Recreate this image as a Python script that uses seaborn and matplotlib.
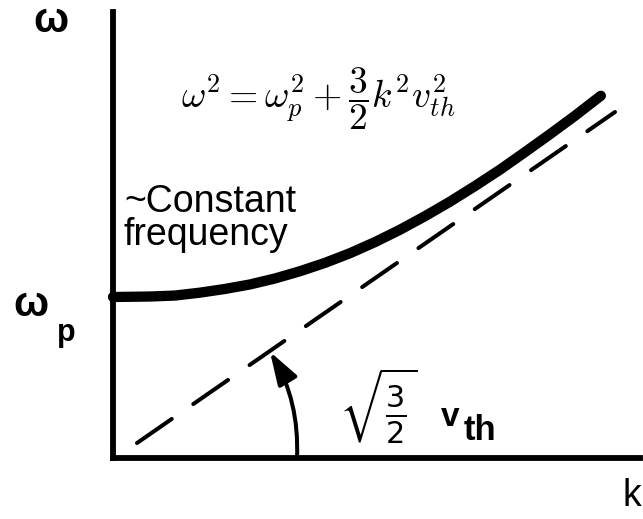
import matplotlib
matplotlib.use("Agg")
import matplotlib.pyplot as plt
import pandas as pd
import seaborn as sns
from matplotlib.patches import FancyArrowPatch

# Langmuir-wave dispersion, both axes in units of omega_p
k_curve = [0.0, 0.230, 0.385, 0.540, 0.696, 0.851, 1.006, 1.161, 1.317, 1.472,
           1.627, 1.783, 1.938, 2.093, 2.248, 2.404, 2.559, 2.714, 2.870, 3.030]
omega_curve = [1.000, 1.003, 1.009, 1.027, 1.050, 1.078, 1.115, 1.160, 1.212,
               1.272, 1.341, 1.418, 1.502, 1.592, 1.689, 1.791, 1.900, 2.011,
               2.126, 2.250]

# large-k asymptote, omega = sqrt(3/2) v_th k
k_asym = [0.149, 3.118]
omega_asym = [0.093, 2.149]

# arc marking the slope of the asymptote
arc_start = (1.143, 0.0)
arc_end = (0.975, 0.660)

W, H = 643, 519
UNIT = 161.0          # pixels per omega_p
X0, Y0 = 113, 458     # origin in pixels

sns.set_theme(style="white")
plt.rcParams["font.family"] = ["Liberation Sans", "DejaVu Sans"]

fig = plt.figure(figsize=(W / 100, H / 100), dpi=100)
ax = fig.add_axes([0, 0, 1, 1])
ax.set_xlim(-X0 / UNIT, (W - X0) / UNIT)
ax.set_ylim(-(H - Y0) / UNIT, Y0 / UNIT)

curve = pd.DataFrame({"k": k_curve, "omega": omega_curve})
asym = pd.DataFrame({"k": k_asym, "omega": omega_asym})

sns.lineplot(data=curve, x="k", y="omega", ax=ax, color="black", lw=7.4,
             sort=False, estimator=None, solid_capstyle="round",
             solid_joinstyle="round")
sns.lineplot(data=asym, x="k", y="omega", ax=ax, color="black", lw=2.9,
             sort=False, estimator=None, linestyle=(0, (10.5, 6.5)),
             dash_capstyle="round")

arrow = FancyArrowPatch(posA=arc_start, posB=arc_end,
                        connectionstyle="arc3,rad=0.15",
                        arrowstyle="-|>,head_length=20,head_width=6.5",
                        mutation_scale=1, lw=2.9, color="black",
                        shrinkA=0, shrinkB=0)
ax.add_patch(arrow)

# axes drawn as two heavy spines meeting at the origin
for side in ["top", "right"]:
    ax.spines[side].set_visible(False)
ax.spines["left"].set_position(("data", 0))
ax.spines["bottom"].set_position(("data", 0))
ax.spines["left"].set_bounds(0, (Y0 - 12) / UNIT)
ax.spines["bottom"].set_bounds(0, (640 - X0) / UNIT)
for side in ["left", "bottom"]:
    ax.spines[side].set_linewidth(4.2)
    ax.spines[side].set_color("black")
ax.set_xticks([])
ax.set_yticks([])
ax.set_xlabel("")
ax.set_ylabel("")
ax.grid(False)


def fx(x):
    return x / W


def fy(y):
    return 1 - y / H


bold_greek = dict(family=["Liberation Sans", "DejaVu Sans"], fontweight="bold",
                  color="black")
fig.text(fx(51), fy(21), "ω", fontsize=30, ha="center", va="center", **bold_greek)
fig.text(fx(31), fy(305), "ω", fontsize=30, ha="center", va="center", **bold_greek)
fig.text(fx(66), fy(333), "p", fontsize=22, ha="center", va="center",
         fontweight="bold", color="black")
fig.text(fx(632), fy(496), "k", fontsize=27, ha="center", va="center",
         color="black")

fig.text(fx(318), fy(99),
         r"$\omega^2 = \omega_p^2 + \dfrac{3}{2}k^2 v_{th}^2$",
         fontsize=27, ha="center", va="center", math_fontfamily="cm",
         color="black")

fig.text(fx(124), fy(212), "~Constant", fontsize=27, ha="left",
         va="baseline", color="black")
fig.text(fx(124), fy(245), "frequency", fontsize=27, ha="left",
         va="baseline", color="black")

fig.text(fx(378), fy(406), r"$\sqrt{\frac{3}{2}}$", fontsize=31, ha="center",
         va="center", math_fontfamily="dejavusans", color="black")
fig.text(fx(450), fy(418), "v", fontsize=24, ha="center", va="center",
         fontweight="bold", color="black")
fig.text(fx(480), fy(430), "th", fontsize=25, ha="center", va="center",
         fontweight="bold", color="black")

fig.savefig("out.png", dpi=100, facecolor="white")
